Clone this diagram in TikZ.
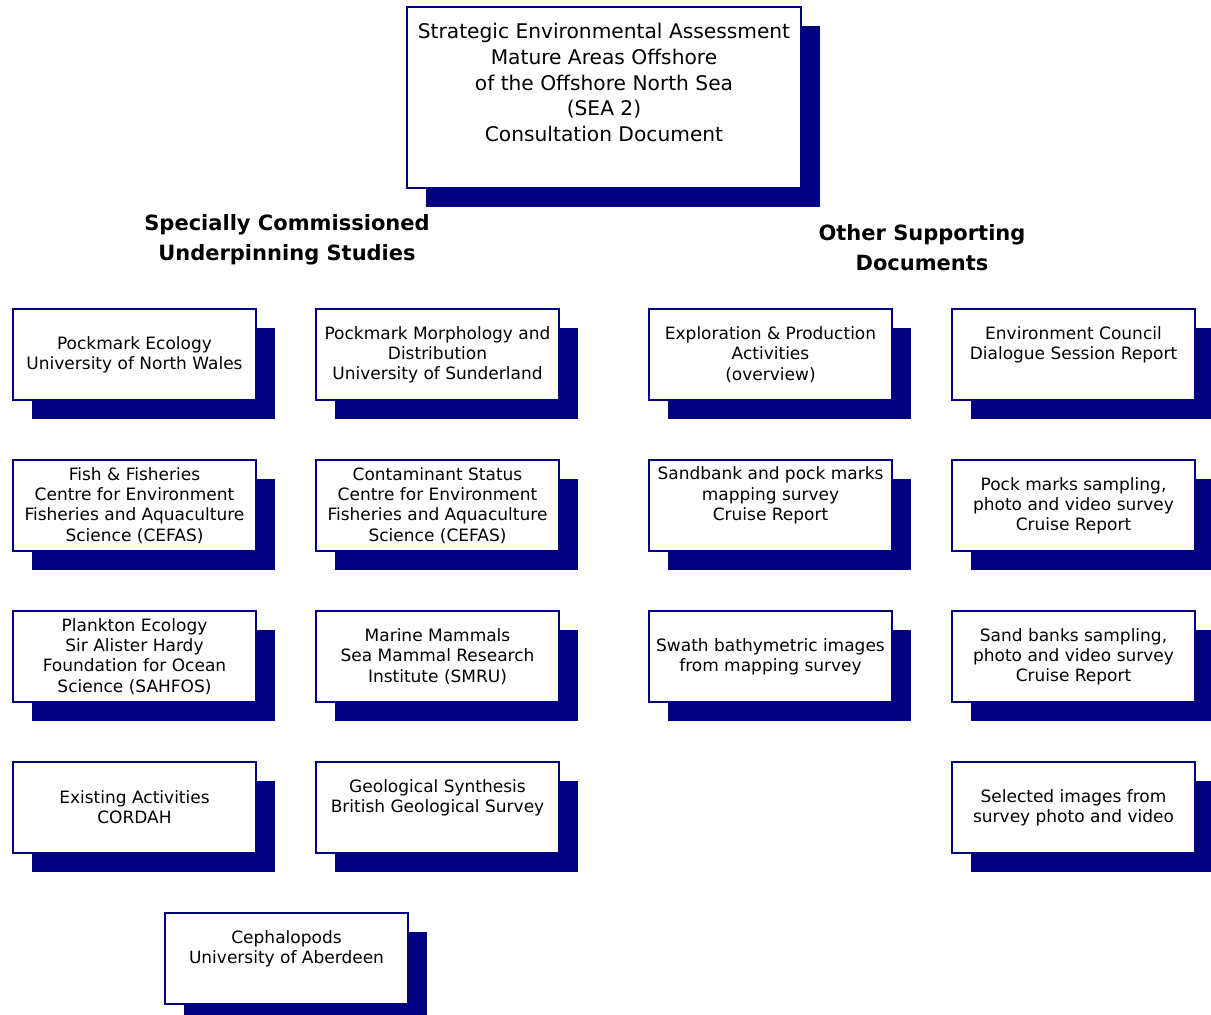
\documentclass[tikz,border=0pt]{standalone}
\usepackage{fontspec}
\setmainfont{DejaVu Sans}
\usetikzlibrary{positioning,shadows}

\definecolor{seanavy}{RGB}{0,0,128}

\tikzstyle{box} = [rectangle, minimum width=121.5pt, minimum height=45.5pt, outer sep=0pt, align=center, draw=seanavy, line width=0.8pt, fill=white, font=\fontsize{8.5}{10.1}\selectfont, drop shadow={shadow xshift=9.5pt, shadow yshift=-9.5pt, fill=seanavy, opacity=1}]
\tikzstyle{raised} = [text depth=11.8pt]
\tikzstyle{heading} = [align=center, font=\fontsize{10.5}{15}\selectfont\bfseries]

\begin{document}
\begin{tikzpicture}[x=0.5pt, y=-0.5pt]
  \useasboundingbox (0,0) rectangle (1211,1014);

  \node (SEA) [box, minimum width=197pt, minimum height=90.5pt, text depth=15pt, font=\fontsize{10.1}{12.8}\selectfont] at (604,97.5) {Strategic Environmental Assessment\\Mature Areas Offshore\\of the Offshore North Sea\\(SEA 2)\\Consultation Document};

  \node (Commissioned) [heading] at (287,240) {Specially Commissioned\\Underpinning Studies};
  \node (Supporting) [heading] at (922,247.5) {Other Supporting\\Documents};

  % commissioned studies
  \node (Pockmark Ecology) [box] at (134.5,354.5) {Pockmark Ecology\\University of North Wales};
  \node (Pockmark Morphology) [box, right=30pt of Pockmark Ecology] {Pockmark Morphology and\\Distribution\\University of Sunderland};
  \node (Fisheries) [box, below=30pt of Pockmark Ecology] {Fish \& Fisheries\\Centre for Environment\\Fisheries and Aquaculture\\Science (CEFAS)};
  \node (Contaminant) [box, below=30pt of Pockmark Morphology] {Contaminant Status\\Centre for Environment\\Fisheries and Aquaculture\\Science (CEFAS)};
  \node (Plankton) [box, below=30pt of Fisheries] {Plankton Ecology\\Sir Alister Hardy\\Foundation for Ocean\\Science (SAHFOS)};
  \node (Mammals) [box, below=30pt of Contaminant] {Marine Mammals\\Sea Mammal Research\\Institute (SMRU)};
  \node (Existing) [box, below=30pt of Plankton] {Existing Activities\\CORDAH};
  \node (Geological) [box, raised, below=30pt of Mammals] {Geological Synthesis\\British Geological Survey};
  \node (Cephalopods) [box, raised, below=30pt of Existing, xshift=76pt] {Cephalopods\\University of Aberdeen};

  % other supporting documents
  \node (Exploration) [box, right=45pt of Pockmark Morphology] {Exploration \& Production\\Activities\\(overview)};
  \node (Council) [box, raised, right=30pt of Exploration] {Environment Council\\Dialogue Session Report};
  \node (Sandbank) [box, raised, below=30pt of Exploration] {Sandbank and pock marks\\mapping survey\\Cruise Report};
  \node (Pock Sampling) [box, below=30pt of Council] {Pock marks sampling,\\photo and video survey\\Cruise Report};
  \node (Swath) [box, below=30pt of Sandbank] {Swath bathymetric images\\from mapping survey};
  \node (Sand Sampling) [box, below=30pt of Pock Sampling] {Sand banks sampling,\\photo and video survey\\Cruise Report};
  \node (Selected) [box, below=30pt of Sand Sampling] {Selected images from\\survey photo and video};
\end{tikzpicture}
\end{document}
